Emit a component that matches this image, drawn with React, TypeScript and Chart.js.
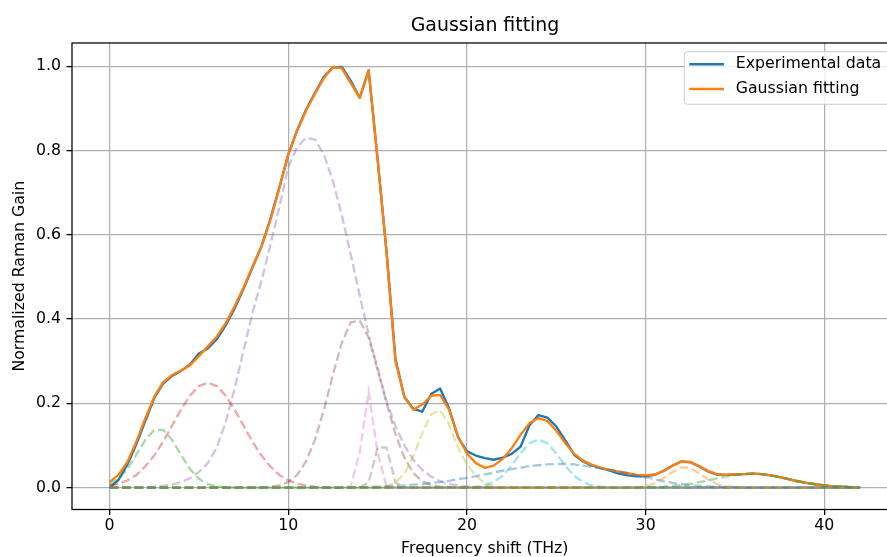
import React, { useEffect, useRef } from 'react';
import Chart from 'chart.js/auto';

// ---------------- data ----------------
const freq = [
  0, 0.5, 1, 1.5, 2, 2.5, 3, 3.5, 4, 4.5,
  5, 5.5, 6, 6.5, 7, 7.5, 8, 8.5, 9, 9.5,
  10, 10.5, 11, 11.5, 12, 12.5, 13, 13.5, 14, 14.5,
  15, 15.5, 16, 16.5, 17, 17.5, 18, 18.5, 19, 19.5,
  20, 20.5, 21, 21.5, 22, 22.5, 23, 23.5, 24, 24.5,
  25, 25.5, 26, 26.5, 27, 27.5, 28, 28.5, 29, 29.5,
  30, 30.5, 31, 31.5, 32, 32.5, 33, 33.5, 34, 34.5,
  35, 35.5, 36, 36.5, 37, 37.5, 38, 38.5, 39, 39.5,
  40, 40.5, 41, 41.5, 42,
];

const experimental = [
  0.000, 0.018, 0.055, 0.103, 0.158, 0.212, 0.247, 0.265, 0.277, 0.292,
  0.318, 0.330, 0.352, 0.385, 0.425, 0.472, 0.522, 0.572, 0.637, 0.712,
  0.790, 0.848, 0.897, 0.937, 0.975, 0.997, 0.998, 0.965, 0.925, 0.990,
  0.780, 0.560, 0.305, 0.215, 0.187, 0.180, 0.222, 0.235, 0.188, 0.120,
  0.086, 0.076, 0.070, 0.066, 0.071, 0.080, 0.097, 0.148, 0.172, 0.166,
  0.145, 0.112, 0.078, 0.062, 0.052, 0.046, 0.040, 0.033, 0.029, 0.027,
  0.027, 0.030, 0.040, 0.052, 0.062, 0.060, 0.050, 0.038, 0.031, 0.030,
  0.031, 0.032, 0.033, 0.032, 0.029, 0.025, 0.020, 0.015, 0.011, 0.008,
  0.005, 0.003, 0.002, 0.001, 0.000,
];

const gaussianFit = [
  0.013, 0.030, 0.061, 0.109, 0.164, 0.215, 0.250, 0.267, 0.278, 0.290,
  0.312, 0.335, 0.358, 0.390, 0.430, 0.475, 0.524, 0.572, 0.635, 0.710,
  0.790, 0.847, 0.895, 0.935, 0.972, 0.998, 0.995, 0.960, 0.925, 0.990,
  0.780, 0.560, 0.300, 0.215, 0.185, 0.197, 0.218, 0.220, 0.185, 0.122,
  0.081, 0.058, 0.047, 0.052, 0.068, 0.093, 0.125, 0.153, 0.165, 0.158,
  0.135, 0.106, 0.080, 0.064, 0.054, 0.047, 0.042, 0.038, 0.034, 0.030,
  0.029, 0.031, 0.039, 0.052, 0.062, 0.061, 0.051, 0.039, 0.032, 0.030,
  0.032, 0.032, 0.033, 0.032, 0.029, 0.025, 0.020, 0.015, 0.011, 0.008,
  0.005, 0.003, 0.002, 0.001, 0.000,
];

const peak1 = [
  0.008, 0.021, 0.044, 0.078, 0.113, 0.137, 0.137, 0.113, 0.078, 0.044,
  0.021, 0.008, 0.003, 0.001, 0, 0, 0, 0, 0, 0,
  0, 0, 0, 0, 0, 0, 0, 0, 0, 0,
  0, 0, 0, 0, 0, 0, 0, 0, 0, 0,
  0, 0, 0, 0, 0, 0, 0, 0, 0, 0,
  0, 0, 0, 0, 0, 0, 0, 0, 0, 0,
  0, 0, 0, 0, 0, 0, 0, 0, 0, 0,
  0, 0, 0, 0, 0, 0, 0, 0, 0, 0,
  0, 0, 0, 0, 0,
];

const peak2 = [
  0.005, 0.009, 0.017, 0.030, 0.050, 0.076, 0.109, 0.147, 0.185, 0.218,
  0.241, 0.249, 0.241, 0.218, 0.185, 0.147, 0.109, 0.076, 0.050, 0.030,
  0.017, 0.009, 0.005, 0.002, 0.001, 0, 0, 0, 0, 0,
  0, 0, 0, 0, 0, 0, 0, 0, 0, 0,
  0, 0, 0, 0, 0, 0, 0, 0, 0, 0,
  0, 0, 0, 0, 0, 0, 0, 0, 0, 0,
  0, 0, 0, 0, 0, 0, 0, 0, 0, 0,
  0, 0, 0, 0, 0, 0, 0, 0, 0, 0,
  0, 0, 0, 0, 0,
];

const peak3 = [
  0, 0, 0, 0.001, 0.001, 0.002, 0.004, 0.007, 0.013, 0.022,
  0.037, 0.058, 0.095, 0.155, 0.235, 0.325, 0.415, 0.490, 0.575, 0.665,
  0.760, 0.808, 0.830, 0.826, 0.790, 0.727, 0.646, 0.553, 0.456, 0.363,
  0.278, 0.205, 0.146, 0.100, 0.066, 0.042, 0.026, 0.015, 0.009, 0.005,
  0.003, 0.001, 0.001, 0, 0, 0, 0, 0, 0, 0,
  0, 0, 0, 0, 0, 0, 0, 0, 0, 0,
  0, 0, 0, 0, 0, 0, 0, 0, 0, 0,
  0, 0, 0, 0, 0, 0, 0, 0, 0, 0,
  0, 0, 0, 0, 0,
];

const peak4 = [
  0, 0, 0, 0, 0, 0, 0, 0, 0, 0,
  0, 0, 0, 0, 0, 0, 0, 0.001, 0.002, 0.005,
  0.013, 0.030, 0.062, 0.114, 0.185, 0.268, 0.344, 0.392, 0.396, 0.356,
  0.284, 0.201, 0.127, 0.071, 0.035, 0.015, 0.006, 0.002, 0.001, 0,
  0, 0, 0, 0, 0, 0, 0, 0, 0, 0,
  0, 0, 0, 0, 0, 0, 0, 0, 0, 0,
  0, 0, 0, 0, 0, 0, 0, 0, 0, 0,
  0, 0, 0, 0, 0, 0, 0, 0, 0, 0,
  0, 0, 0, 0, 0,
];

const peak5 = [
  0, 0, 0, 0, 0, 0, 0, 0, 0, 0,
  0, 0, 0, 0, 0, 0, 0, 0, 0, 0,
  0, 0, 0, 0, 0, 0, 0, 0.003, 0.083, 0.227,
  0.083, 0.003, 0, 0, 0, 0, 0, 0, 0, 0,
  0, 0, 0, 0, 0, 0, 0, 0, 0, 0,
  0, 0, 0, 0, 0, 0, 0, 0, 0, 0,
  0, 0, 0, 0, 0, 0, 0, 0, 0, 0,
  0, 0, 0, 0, 0, 0, 0, 0, 0, 0,
  0, 0, 0, 0, 0,
];

const peak6 = [
  0, 0, 0, 0, 0, 0, 0, 0, 0, 0,
  0, 0, 0, 0, 0, 0, 0, 0, 0, 0,
  0, 0, 0, 0, 0, 0, 0, 0, 0, 0.012,
  0.095, 0.095, 0.012, 0, 0, 0, 0, 0, 0, 0,
  0, 0, 0, 0, 0, 0, 0, 0, 0, 0,
  0, 0, 0, 0, 0, 0, 0, 0, 0, 0,
  0, 0, 0, 0, 0, 0, 0, 0, 0, 0,
  0, 0, 0, 0, 0, 0, 0, 0, 0, 0,
  0, 0, 0, 0, 0,
];

const peak7 = [
  0, 0, 0, 0, 0, 0, 0, 0, 0, 0,
  0, 0, 0, 0, 0, 0, 0, 0, 0, 0,
  0, 0, 0, 0, 0, 0, 0, 0, 0, 0,
  0.001, 0.003, 0.012, 0.033, 0.074, 0.129, 0.174, 0.183, 0.150, 0.095,
  0.055, 0.028, 0.010, 0.003, 0, 0, 0, 0, 0, 0,
  0, 0, 0, 0, 0, 0, 0, 0, 0, 0,
  0, 0, 0, 0, 0, 0, 0, 0, 0, 0,
  0, 0, 0, 0, 0, 0, 0, 0, 0, 0,
  0, 0, 0, 0, 0,
];

const peak8 = [
  0, 0, 0, 0, 0, 0, 0, 0, 0, 0,
  0, 0, 0, 0, 0, 0, 0, 0, 0, 0,
  0, 0, 0, 0, 0, 0, 0, 0, 0, 0,
  0, 0, 0, 0, 0, 0, 0, 0, 0, 0,
  0, 0.002, 0.005, 0.013, 0.028, 0.052, 0.081, 0.105, 0.114, 0.105,
  0.081, 0.052, 0.028, 0.013, 0.005, 0.002, 0, 0, 0, 0,
  0, 0, 0, 0, 0, 0, 0, 0, 0, 0,
  0, 0, 0, 0, 0, 0, 0, 0, 0, 0,
  0, 0, 0, 0, 0,
];

const peak9 = [
  0, 0, 0, 0, 0, 0, 0, 0, 0, 0,
  0, 0, 0, 0, 0, 0, 0, 0, 0, 0,
  0, 0, 0, 0, 0, 0, 0, 0, 0.001, 0.001,
  0.002, 0.003, 0.004, 0.005, 0.007, 0.008, 0.011, 0.013, 0.016, 0.020,
  0.023, 0.027, 0.031, 0.036, 0.040, 0.044, 0.047, 0.051, 0.053, 0.055,
  0.056, 0.056, 0.055, 0.052, 0.049, 0.045, 0.042, 0.038, 0.034, 0.029,
  0.025, 0.020, 0.015, 0.011, 0.008, 0.005, 0.004, 0.003, 0.002, 0.001,
  0.001, 0, 0, 0, 0, 0, 0, 0, 0, 0,
  0, 0, 0, 0, 0,
];

const peak10 = [
  0, 0, 0, 0, 0, 0, 0, 0, 0, 0,
  0, 0, 0, 0, 0, 0, 0, 0, 0, 0,
  0, 0, 0, 0, 0, 0, 0, 0, 0, 0,
  0, 0, 0, 0, 0, 0, 0, 0, 0, 0,
  0, 0, 0, 0, 0, 0, 0, 0, 0, 0,
  0, 0, 0, 0, 0, 0, 0, 0, 0, 0.001,
  0.003, 0.010, 0.022, 0.037, 0.048, 0.047, 0.034, 0.019, 0.008, 0.003,
  0.001, 0, 0, 0, 0, 0, 0, 0, 0, 0,
  0, 0, 0, 0, 0,
];

const peak11 = [
  0, 0, 0, 0, 0, 0, 0, 0, 0, 0,
  0, 0, 0, 0, 0, 0, 0, 0, 0, 0,
  0, 0, 0, 0, 0, 0, 0, 0, 0, 0,
  0, 0, 0, 0, 0, 0, 0, 0, 0, 0,
  0, 0, 0, 0, 0, 0, 0, 0, 0, 0,
  0, 0, 0, 0, 0, 0, 0, 0, 0, 0,
  0.001, 0.001, 0.002, 0.004, 0.006, 0.009, 0.013, 0.017, 0.022, 0.026,
  0.030, 0.032, 0.033, 0.032, 0.029, 0.025, 0.020, 0.015, 0.011, 0.008,
  0.005, 0.003, 0.002, 0.001, 0,
];

const xTicks = [0, 10, 20, 30, 40];
const yTicks = [0, 0.2, 0.4, 0.6, 0.8, 1.0];
const titleText = 'Gaussian fitting';
const xLabel = 'Frequency shift (THz)';
const yLabel = 'Normalized Raman Gain';
const legendLabels = ['Experimental data', 'Gaussian fitting'];

// ---------------- styles ----------------
const FONT = 'DejaVu Sans';
const peaks = [peak1, peak2, peak3, peak4, peak5, peak6, peak7, peak8, peak9, peak10, peak11];
const peakColors = [
  'rgba(44,160,44,0.4)', 'rgba(214,39,40,0.4)', 'rgba(148,103,189,0.4)', 'rgba(140,86,75,0.4)',
  'rgba(227,119,194,0.4)', 'rgba(127,127,127,0.4)', 'rgba(188,189,34,0.4)', 'rgba(23,190,207,0.4)',
  'rgba(31,119,180,0.4)', 'rgba(255,127,14,0.4)', 'rgba(44,160,44,0.4)',
];
const lineColors = ['#1f77b4', '#ff7f0e'];

const toPoints = (ys: number[]) => freq.map((x, i) => ({ x, y: ys[i] }));

const frameLegendPlugin = {
  id: 'frameLegend',
  afterDraw(chart: any) {
    const { ctx, chartArea: ca } = chart;
    ctx.save();
    ctx.strokeStyle = '#000';
    ctx.lineWidth = 1.26;
    ctx.strokeRect(ca.left, ca.top, ca.right - ca.left, ca.bottom - ca.top);

    const bx = ca.right - 213.3;
    const by = ca.top + 8.7;
    const bw = 205.4;
    const bh = 52.6;
    const r = 3;
    ctx.beginPath();
    ctx.moveTo(bx + r, by);
    ctx.lineTo(bx + bw - r, by);
    ctx.arcTo(bx + bw, by, bx + bw, by + r, r);
    ctx.lineTo(bx + bw, by + bh - r);
    ctx.arcTo(bx + bw, by + bh, bx + bw - r, by + bh, r);
    ctx.lineTo(bx + r, by + bh);
    ctx.arcTo(bx, by + bh, bx, by + bh - r, r);
    ctx.lineTo(bx, by + r);
    ctx.arcTo(bx, by, bx + r, by, r);
    ctx.closePath();
    ctx.fillStyle = 'rgba(255,255,255,0.8)';
    ctx.fill();
    ctx.strokeStyle = '#cccccc';
    ctx.lineWidth = 1;
    ctx.stroke();

    const rows = [12.6, 37.3];
    legendLabels.forEach((label, i) => {
      const y = by + rows[i];
      ctx.strokeStyle = lineColors[i];
      ctx.lineWidth = 2.36;
      ctx.beginPath();
      ctx.moveTo(bx + 5, y);
      ctx.lineTo(bx + 39.7, y);
      ctx.stroke();
      ctx.fillStyle = '#000';
      ctx.font = `15.75px "${FONT}"`;
      ctx.textAlign = 'left';
      ctx.textBaseline = 'middle';
      ctx.fillText(label, bx + 51.4, y);
    });
    ctx.restore();
  },
};

export default function App() {
  const ref = useRef<HTMLCanvasElement>(null);

  useEffect(() => {
    const peakSets = peaks
      .map((p, i) => ({
        label: `peak ${i + 1}`,
        data: toPoints(p),
        borderColor: peakColors[i],
        borderWidth: 2.36,
        borderDash: [8.7, 3.8],
        pointRadius: 0,
        tension: 0,
        fill: false,
      }))
      .reverse();

    const datasets = [
      ...peakSets,
      {
        label: legendLabels[1],
        data: toPoints(gaussianFit),
        borderColor: lineColors[1],
        borderWidth: 2.36,
        pointRadius: 0,
        tension: 0,
        borderJoinStyle: 'round',
        fill: false,
      },
      {
        label: legendLabels[0],
        data: toPoints(experimental),
        borderColor: lineColors[0],
        borderWidth: 2.36,
        pointRadius: 0,
        tension: 0,
        borderJoinStyle: 'round',
        fill: false,
      },
    ];

    const gridOpts = {
      color: '#b0b0b0',
      lineWidth: 1.26,
      tickColor: '#000',
      tickLength: 5.5,
      tickWidth: 1.26,
      drawTicks: true,
    };

    const chart = new Chart(ref.current as HTMLCanvasElement, {
      type: 'line',
      data: { datasets: datasets as any },
      options: {
        animation: false,
        responsive: false,
        maintainAspectRatio: false,
        devicePixelRatio: 1,
        layout: { padding: 0 },
        plugins: {
          legend: { display: false },
          tooltip: { enabled: false },
          title: {
            display: true,
            text: titleText,
            color: '#000',
            font: { family: FONT, size: 18.9, weight: 'normal' },
            padding: { top: 15.15, bottom: 5.15 },
          },
        },
        scales: {
          x: {
            type: 'linear',
            min: -2.1,
            max: 44.1,
            afterBuildTicks: (s: any) => {
              s.ticks = xTicks.map((v) => ({ value: v }));
            },
            afterFit: (s: any) => {
              s.height = 60.5;
            },
            ticks: {
              color: '#000',
              font: { family: FONT, size: 15.75 },
              padding: 1,
              maxRotation: 0,
              autoSkip: false,
              callback: (v: any) => String(v),
            },
            grid: gridOpts,
            border: { display: false },
            title: {
              display: true,
              text: xLabel,
              color: '#000',
              font: { family: FONT, size: 15.75 },
              padding: { top: 0, bottom: 11.55 },
            },
          },
          y: {
            type: 'linear',
            position: 'left',
            min: -0.052,
            max: 1.055,
            afterBuildTicks: (s: any) => {
              s.ticks = yTicks.map((v) => ({ value: v }));
            },
            afterFit: (s: any) => {
              s.width = 72;
            },
            ticks: {
              color: '#000',
              font: { family: FONT, size: 15.75 },
              padding: 5.5,
              callback: (v: any) => Number(v).toFixed(1),
            },
            grid: gridOpts,
            border: { display: false },
            title: {
              display: true,
              text: yLabel,
              color: '#000',
              font: { family: FONT, size: 15.75 },
              padding: { top: 10.5, bottom: 0 },
            },
          },
          yRight: {
            type: 'linear',
            position: 'right',
            display: true,
            grid: { display: false, drawTicks: false },
            ticks: { display: false },
            border: { display: false },
            afterFit: (s: any) => {
              s.width = 72.4;
            },
          },
        },
      } as any,
      plugins: [frameLegendPlugin],
    });

    return () => chart.destroy();
  }, []);

  return (
    <div
      style={{
        position: 'fixed',
        left: 0,
        top: 0,
        width: 887,
        height: 557,
        overflow: 'hidden',
        background: '#fff',
      }}
    >
      <canvas ref={ref} width={970} height={570} style={{ display: 'block', width: 970, height: 570 }} />
    </div>
  );
}
